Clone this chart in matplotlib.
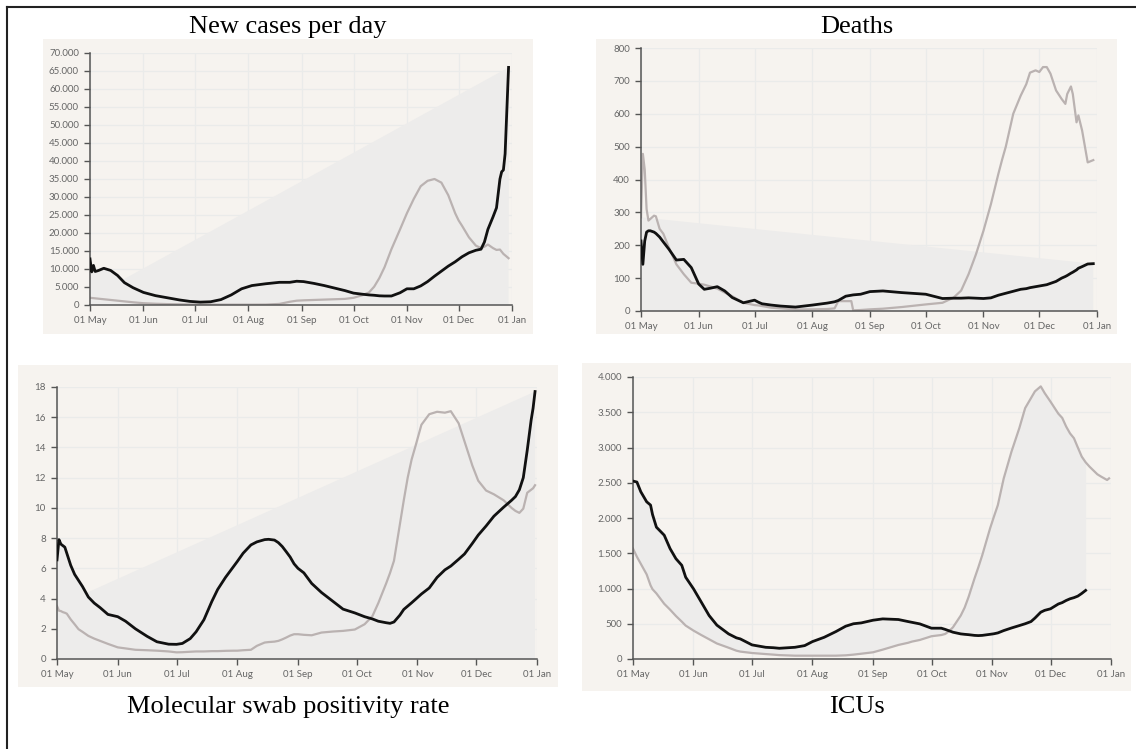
import numpy as np
import matplotlib
matplotlib.use('Agg')
import matplotlib.pyplot as plt
import matplotlib.dates as mdates
from matplotlib.lines import Line2D
from matplotlib.patches import Rectangle
from matplotlib.ticker import FuncFormatter, MultipleLocator


# day numbers are counted from 01 May 2020
START = np.datetime64('2020-05-01')
END = np.datetime64('2021-01-01')

# New cases per day
cases_days = [0, 1, 2, 3, 5, 8, 12, 16, 20, 25, 31, 38, 45, 52, 58, 64, 70, 76, 82, 88, 94, 102, 110, 116,
              120, 124, 130, 136, 142, 148, 153, 158, 162, 165, 168, 171, 175, 180, 184, 188, 192, 196, 200,
              204, 208, 212, 214, 216, 220, 224, 227, 229, 231, 234, 236, 238, 239, 240, 241, 243]
cases_black = [12800, 9200, 11000, 9300, 9600, 10200, 9600, 8200, 6200, 4800, 3500, 2600, 2000, 1400, 1000,
               800, 900, 1500, 2800, 4500, 5400, 5900, 6300, 6300, 6600, 6500, 6000, 5400, 4700, 4000, 3300,
               3000, 2800, 2700, 2550, 2500, 2500, 3400, 4500, 4500, 5300, 6500, 8000, 9400, 10800, 12000,
               12700, 13400, 14500, 15200, 15500, 17500, 21000, 24500, 27000, 35000, 37000, 37500, 42000, 66000]
cases_grey = [2000, 1950, 1900, 1850, 1750, 1600, 1400, 1200, 1000, 750, 500, 350, 250, 200, 150, 150, 120,
              100, 100, 100, 100, 120, 300, 900, 1200, 1300, 1400, 1500, 1600, 1700, 2000, 2700, 3500, 5100,
              7500, 10500, 15500, 21000, 25500, 29500, 33000, 34500, 35000, 34000, 30500, 25500, 23500, 22000,
              18800, 16500, 15800, 16200, 16800, 15800, 15300, 15400, 14800, 14200, 13800, 13000]

# Deaths
deaths_days = [0, 1, 2, 3, 4, 5, 7, 8, 10, 12, 15, 19, 23, 27, 31, 34, 37, 41, 45, 49, 55, 61, 63, 65, 70, 75,
               83, 92, 100, 104, 106, 110, 113, 114, 118, 123, 130, 140, 153, 162, 168, 172, 176, 180, 184, 188,
               192, 194, 196, 200, 204, 207, 209, 212, 214, 216, 218, 220, 223, 226, 228, 229, 231, 232, 234,
               235, 237, 240, 243]
deaths_black = [213, 142, 213, 240, 244, 244, 240, 236, 225, 210, 188, 155, 157, 132, 82, 66, 69, 74, 61, 41,
                25, 33, 27, 22, 18, 15, 12, 18, 24, 28, 32, 45, 48, 49, 51, 59, 61, 56, 51, 38, 39, 39, 40, 39,
                38, 40, 48, 51, 54, 60, 66, 68, 71, 74, 76, 78, 80, 84, 90, 100, 105, 108, 115, 118, 125, 130,
                135, 143, 144]
deaths_grey = [285, 478, 430, 310, 275, 280, 290, 288, 250, 235, 193, 142, 112, 86, 83, 80, 75, 68, 56, 45, 25,
               18, 17, 15, 10, 8, 5, 5, 6, 8, 30, 30, 30, 2, 3, 5, 7, 12, 20, 25, 41, 62, 112, 173, 244, 325,
               417, 460, 500, 600, 655, 690, 725, 732, 727, 742, 742, 722, 671, 645, 630, 660, 683, 660, 574,
               595, 549, 452, 459]

# Molecular swab positivity rate
swab_days = [0, 1, 2, 3, 4, 5, 7, 9, 11, 13, 16, 19, 22, 26, 31, 35, 40, 46, 51, 57, 61, 64, 68, 71, 75, 79, 82,
             86, 90, 92, 95, 99, 102, 106, 108, 111, 113, 115, 117, 119, 121, 123, 126, 130, 135, 141, 146, 152,
             157, 161, 164, 168, 170, 172, 175, 177, 179, 181, 183, 186, 190, 194, 198, 201, 205, 208, 212, 215,
             219, 223, 228, 232, 234, 236, 238, 240, 242, 243, 244]
swab_black = [6.56, 7.9, 7.6, 7.5, 7.4, 7.0, 6.2, 5.6, 5.2, 4.8, 4.1, 3.7, 3.4, 2.95, 2.8, 2.5, 2.0, 1.5, 1.14,
              0.98, 0.97, 1.03, 1.35, 1.8, 2.6, 3.8, 4.6, 5.4, 6.1, 6.45, 7.0, 7.55, 7.75, 7.9, 7.92, 7.87, 7.7,
              7.44, 7.1, 6.75, 6.3, 6.0, 5.7, 5.0, 4.4, 3.8, 3.3, 3.05, 2.8, 2.65, 2.5, 2.4, 2.36, 2.45, 2.9,
              3.28, 3.5, 3.72, 3.95, 4.3, 4.7, 5.4, 5.9, 6.15, 6.6, 6.95, 7.65, 8.2, 8.8, 9.45, 10.05, 10.5,
              10.75, 11.2, 12.0, 13.8, 15.8, 16.6, 17.7]
swab_grey = [3.5, 3.2, 3.17, 3.1, 3.06, 3.0, 2.62, 2.3, 1.97, 1.8, 1.53, 1.35, 1.2, 1.0, 0.77, 0.7, 0.61, 0.58,
             0.55, 0.5, 0.44, 0.45, 0.48, 0.5, 0.5, 0.52, 0.52, 0.54, 0.55, 0.55, 0.58, 0.61, 0.87, 1.09, 1.12,
             1.15, 1.2, 1.3, 1.42, 1.55, 1.64, 1.64, 1.6, 1.57, 1.75, 1.82, 1.86, 1.95, 2.3, 2.84, 3.7, 5.0,
             5.7, 6.5, 8.9, 10.5, 12.0, 13.2, 14.1, 15.5, 16.2, 16.36, 16.3, 16.4, 15.6, 14.4, 12.8, 11.8,
             11.15, 10.9, 10.5, 10.0, 9.8, 9.67, 9.95, 11.0, 11.2, 11.3, 11.5]

# ICUs (the black series stops on 19 Dec)
icu_days = [0, 2, 4, 7, 9, 10, 12, 16, 19, 22, 25, 27, 31, 35, 39, 43, 49, 53, 55, 61, 68, 72, 75, 83, 88, 92,
            98, 104, 109, 113, 117, 123, 128, 136, 141, 143, 147, 153, 158, 160, 162, 164, 168, 170, 172, 175,
            177, 179, 183, 185, 187, 190, 194, 198, 201, 204, 206, 209, 211, 214, 218, 220, 222, 224, 226, 228,
            230, 232, 234, 238, 240, 243, 244]
icu_black = [2524, 2510, 2372, 2230, 2183, 2050, 1870, 1756, 1566, 1423, 1329, 1160, 996, 807, 617, 480, 356,
             300, 285, 200, 166, 160, 152, 166, 190, 247, 308, 389, 465, 500, 512, 550, 569, 560, 531, 520, 498,
             437, 437, 420, 400, 380, 356, 350, 345, 335, 332, 335, 350, 358, 370, 403, 440, 474, 500, 531, 580,
             664, 690, 712, 780, 800, 830, 854, 870, 892, 930, 973, np.nan, np.nan, np.nan, np.nan, np.nan]
icu_grey = [1566, 1450, 1350, 1200, 1044, 990, 930, 783, 700, 610, 530, 474, 403, 340, 280, 220, 160, 118, 105,
            85, 70, 62, 55, 47, 47, 47, 47, 47, 52, 62, 75, 95, 133, 199, 230, 247, 270, 323, 340, 355, 395, 450,
            617, 730, 880, 1139, 1300, 1471, 1851, 2020, 2183, 2560, 2942, 3274, 3559, 3701, 3796, 3867, 3772,
            3650, 3480, 3420, 3298, 3200, 3132, 3000, 2871, 2790, 2728, 2620, 2586, 2539, 2562]

BEIGE = '#f6f3ef'
GRID = '#eaebea'
FILL = '#edeceb'
BLACK = '#111111'
GREY = '#bab2b1'
AXIS = '#555555'
W, H = 1136, 749


def to_dates(days):
    return START + np.array(days).astype('timedelta64[D]')


def dot_thousands(v, pos):
    return f'{v:,.0f}'.replace(',', '.')


def fig_rect(x0, y0, x1, y1):
    # pixel box (top-left origin) -> figure fraction [left, bottom, width, height]
    return [x0 / W, 1 - y1 / H, (x1 - x0) / W, (y1 - y0) / H]


# Draws one panel: beige card, gridded axes, the two series and the grey fill
def draw_panel(fig, card, box, days, black, grey, ymax, ystep, title, title_y, diagonal=True):
    fig.add_artist(Rectangle((card[0], card[1]), card[2], card[3], transform=fig.transFigure,
                             facecolor=BEIGE, edgecolor='none', zorder=0))
    ax = fig.add_axes(box)
    ax.set_facecolor('none')

    x = to_dates(days)
    black = np.array(black, dtype=float)
    grey = np.array(grey, dtype=float)

    if diagonal:
        ax.fill([x[0], x[-1], x[-1], x[0]], [grey[0], black[-1], 0, 0], color=FILL, lw=0, zorder=1)
        ax.fill_between(x, black, grey, where=black >= grey, interpolate=True, color=FILL, lw=0, zorder=1)
    else:
        ax.fill_between(x, black, grey, color=FILL, lw=0, zorder=1)

    ax.plot(x, grey, color=GREY, lw=1.6, zorder=2)
    ax.plot(x, black, color=BLACK, lw=2.0, zorder=3)

    ax.set_xlim(START, END)
    ax.set_ylim(0, ymax)
    ax.xaxis.set_major_locator(mdates.MonthLocator())
    ax.xaxis.set_major_formatter(mdates.DateFormatter('%d %b'))
    ax.yaxis.set_major_locator(MultipleLocator(ystep))
    ax.yaxis.set_major_formatter(FuncFormatter(dot_thousands))

    ax.grid(True, color=GRID, lw=0.9, zorder=0)
    ax.set_axisbelow(True)
    for side in ['top', 'right']:
        ax.spines[side].set_visible(False)
    for side in ['left', 'bottom']:
        ax.spines[side].set_color(AXIS)
        ax.spines[side].set_linewidth(1.1)
    ax.tick_params(length=4, width=1, color=AXIS, labelcolor='#666666', labelsize=7, pad=4)
    for lab in ax.get_xticklabels() + ax.get_yticklabels():
        lab.set_family('Lato')

    cx = card[0] + card[2] / 2
    fig.text(cx, 1 - title_y / H, title, ha='center', va='baseline',
             family='Liberation Serif', fontsize=19, color='black')
    return ax


fig = plt.figure(figsize=(W / 100, H / 100), dpi=100)
fig.patch.set_facecolor('white')

draw_panel(fig, fig_rect(43, 39, 533, 334), fig_rect(90, 53, 512, 305),
           cases_days, cases_black, cases_grey, 70000, 5000, 'New cases per day', 33)
draw_panel(fig, fig_rect(596, 39, 1117, 334), fig_rect(641, 48, 1097, 311),
           deaths_days, deaths_black, deaths_grey, 800, 100, 'Deaths', 33)
draw_panel(fig, fig_rect(18, 365, 558, 687), fig_rect(57, 387, 537, 659),
           swab_days, swab_black, swab_grey, 18, 2, 'Molecular swab positivity rate', 713)
draw_panel(fig, fig_rect(582, 363, 1131, 691), fig_rect(633, 377, 1111, 659),
           icu_days, icu_black, icu_grey, 4000, 500, 'ICUs', 713, diagonal=False)

# frame: only the left and top edges fall inside the picture
fig.add_artist(Line2D([7 / W, 7 / W], [0, 1 - 7 / H], transform=fig.transFigure, color='#222222', lw=1.5))
fig.add_artist(Line2D([7 / W, 1], [1 - 7 / H, 1 - 7 / H], transform=fig.transFigure, color='#222222', lw=1.5))

fig.savefig('out.png', dpi=100, facecolor='white')
